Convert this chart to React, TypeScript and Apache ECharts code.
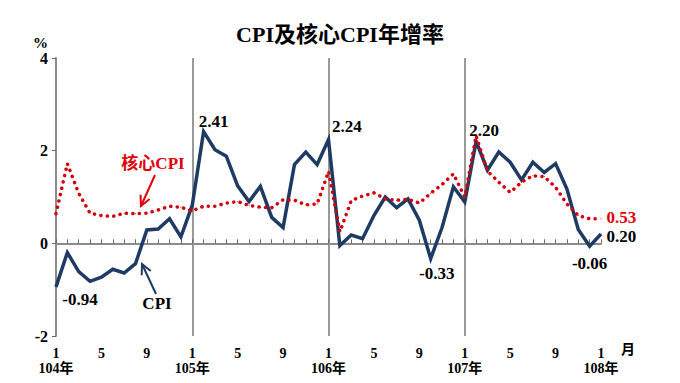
import React, { useEffect, useRef } from "react";
import * as echarts from "echarts";

const TITLE = "CPI及核心CPI年增率";
const YEARS = ["104年", "105年", "106年", "107年", "108年"];
const MONTH_LABELS = ["1", "5", "9"];

// 104年1月 – 108年1月, monthly
const cpi = [
  -0.94, -0.2, -0.61, -0.82, -0.73, -0.56, -0.64, -0.44, 0.29, 0.31, 0.53, 0.14,
  0.82, 2.41, 2.02, 1.88, 1.24, 0.9, 1.23, 0.56, 0.34, 1.7, 1.97, 1.7,
  2.24, -0.05, 0.18, 0.1, 0.6, 1.0, 0.77, 0.96, 0.5, -0.33, 0.34, 1.22,
  0.89, 2.2, 1.58, 1.97, 1.75, 1.37, 1.75, 1.53, 1.72, 1.17, 0.3, -0.06,
  0.2,
];
const core = [
  0.64, 1.72, 1.08, 0.65, 0.6, 0.58, 0.65, 0.64, 0.65, 0.72, 0.8, 0.78,
  0.7, 0.8, 0.8, 0.87, 0.9, 0.82, 0.78, 0.77, 0.94, 0.93, 0.83, 0.85,
  1.55, 0.25, 0.92, 1.02, 1.09, 0.96, 0.93, 0.95, 0.87, 1.08, 1.27, 1.5,
  1.0, 2.32, 1.56, 1.32, 1.1, 1.32, 1.46, 1.44, 1.21, 0.85, 0.6, 0.53,
  0.53,
];

const categories: string[] = [];
YEARS.forEach((y, yi) => {
  const n = yi === YEARS.length - 1 ? 1 : 12;
  for (let m = 1; m <= n; m++) categories.push(`${y}${m}月`);
});

const SERIF = "'Liberation Serif', 'Times New Roman', 'Noto Sans CJK TC', serif";
const NAVY = "#1f3b63";
const RED = "#e0000b";
const DOT_RED = "#d2000a";

// label placement for annotated points
const cpiLabels: Record<number, any> = {
  0: { position: "bottom", offset: [24, 0] },
  13: { position: "top", offset: [10, 2] },
  24: { position: "right", offset: [-2, -13] },
  33: { position: "bottom", offset: [6, 2] },
  37: { position: "top", offset: [8, 2] },
  47: { position: "bottom", offset: [0, 5] },
  48: { position: "right", offset: [0, 2] },
};
const coreLabels: Record<number, any> = {
  48: { position: "right", offset: [0, -1] },
};

export default function App() {
  const ref = useRef<HTMLDivElement>(null);
  useEffect(() => {
    if (!ref.current) return;
    const chart = echarts.init(ref.current, null, { renderer: "svg" });
    const valueFont = {
      fontFamily: SERIF,
      fontWeight: "bold" as const,
      fontSize: 17,
      lineHeight: 14,
    };
    const cpiData = cpi.map((v, i) =>
      cpiLabels[i]
        ? {
            value: v,
            label: {
              show: true,
              ...cpiLabels[i],
              color: "#000",
              ...valueFont,
              formatter: (p: any) => Number(p.value).toFixed(2),
            },
          }
        : v
    );
    const coreData = core.map((v, i) =>
      coreLabels[i]
        ? {
            value: v,
            label: {
              show: true,
              ...coreLabels[i],
              color: RED,
              ...valueFont,
              formatter: (p: any) => Number(p.value).toFixed(2),
            },
          }
        : v
    );

    const arrowHead = (tip: number[], from: number[], len: number, half: number) => {
      const dx = tip[0] - from[0];
      const dy = tip[1] - from[1];
      const d = Math.sqrt(dx * dx + dy * dy);
      const ux = dx / d;
      const uy = dy / d;
      const bx = tip[0] - ux * len;
      const by = tip[1] - uy * len;
      return [
        [bx - uy * half, by + ux * half],
        tip,
        [bx + uy * half, by - ux * half],
      ];
    };
    const redFrom = [155, 175];
    const redTip = [141, 206];
    const blkFrom = [156, 294];
    const blkTip = [142, 264];

    chart.setOption({
      animation: false,
      title: {
        text: TITLE,
        left: "center",
        top: 18,
        textStyle: {
          fontFamily: SERIF,
          fontWeight: "bold",
          fontSize: 22,
          color: "#000",
        },
      },
      grid: { left: 56, right: 79, top: 58, bottom: 47 },
      xAxis: [
        {
          type: "category",
          data: categories,
          boundaryGap: false,
          axisLine: { onZero: true, lineStyle: { color: "#8c8c8c", width: 2 } },
          axisTick: {
            show: true,
            inside: true,
            length: 4,
            interval: 0,
            lineStyle: { color: "#666", width: 1 },
          },
          axisLabel: { show: false },
          splitLine: {
            show: true,
            interval: (i: number) => i > 0 && i < categories.length - 1 && i % 12 === 0,
            lineStyle: { color: "#999", width: 2 },
          },
        },
        {
          type: "category",
          data: categories,
          boundaryGap: false,
          position: "bottom",
          axisLine: { show: false, onZero: false },
          axisTick: { show: false },
          splitLine: { show: false },
          axisLabel: {
            show: true,
            interval: 0,
            margin: 10,
            formatter: (_v: string, i: number) => {
              if (i % 4 !== 0) return "";
              const m = MONTH_LABELS[(i % 12) / 4];
              if (i % 12 === 0) return `{m|${m}}\n{y|${YEARS[i / 12]}}`;
              return `{m|${m}}`;
            },
            rich: {
              m: {
                fontFamily: SERIF,
                fontWeight: "bold",
                fontSize: 14,
                color: "#000",
                lineHeight: 15,
              },
              y: {
                fontFamily: SERIF,
                fontWeight: "bold",
                fontSize: 14,
                color: "#000",
                lineHeight: 15,
              },
            },
          },
        },
      ],
      yAxis: {
        type: "value",
        min: -2,
        max: 4,
        interval: 2,
        axisLine: { show: true, lineStyle: { color: "#8c8c8c", width: 2 } },
        axisTick: { show: true, length: 4, lineStyle: { color: "#666" } },
        splitLine: { show: false },
        axisLabel: {
          margin: 8,
          fontFamily: SERIF,
          fontWeight: "bold",
          fontSize: 16,
          color: "#000",
        },
      },
      series: [
        {
          name: "核心CPI",
          type: "line",
          data: coreData,
          xAxisIndex: 0,
          showSymbol: true,
          showAllSymbol: true,
          symbol: "circle",
          symbolSize: 1,
          itemStyle: { color: DOT_RED },
          lineStyle: { color: DOT_RED, width: 3.5, type: [0.1, 6.4], cap: "round" },
          label: { show: false },
          z: 3,
        },
        {
          name: "CPI",
          type: "line",
          data: cpiData,
          xAxisIndex: 0,
          showSymbol: true,
          showAllSymbol: true,
          symbol: "circle",
          symbolSize: 1,
          itemStyle: { color: NAVY },
          lineStyle: { color: NAVY, width: 3.5, join: "miter" },
          label: { show: false },
          z: 2,
        },
      ],
      graphic: [
        {
          type: "text",
          left: 33,
          top: 35,
          style: {
            text: "%",
            fontFamily: SERIF,
            fontWeight: "bold",
            fontSize: 15,
            fill: "#000",
          },
        },
        {
          type: "text",
          left: 621,
          top: 342,
          style: {
            text: "月",
            fontFamily: SERIF,
            fontWeight: "bold",
            fontSize: 14,
            fill: "#000",
          },
        },
        {
          type: "text",
          x: 153,
          y: 163,
          style: {
            text: "核心CPI",
            fontFamily: SERIF,
            fontWeight: "bold",
            fontSize: 17,
            fill: RED,
            align: "center",
            verticalAlign: "middle",
          },
        },
        {
          type: "line",
          shape: { x1: redFrom[0], y1: redFrom[1], x2: redTip[0], y2: redTip[1] },
          style: { stroke: RED, lineWidth: 2 },
        },
        {
          type: "polyline",
          shape: { points: arrowHead(redTip, redFrom, 10, 5) },
          style: { stroke: RED, lineWidth: 2, fill: "none" },
        },
        {
          type: "text",
          x: 157,
          y: 303,
          style: {
            text: "CPI",
            fontFamily: SERIF,
            fontWeight: "bold",
            fontSize: 17,
            fill: "#000",
            align: "center",
            verticalAlign: "middle",
          },
        },
        {
          type: "line",
          shape: { x1: blkFrom[0], y1: blkFrom[1], x2: blkTip[0], y2: blkTip[1] },
          style: { stroke: NAVY, lineWidth: 2 },
        },
        {
          type: "polyline",
          shape: { points: arrowHead(blkTip, blkFrom, 10, 5) },
          style: { stroke: NAVY, lineWidth: 2, fill: "none" },
        },
      ],
    });
    return () => chart.dispose();
  }, []);
  return (
    <div
      ref={ref}
      style={{ position: "absolute", left: 0, top: 0, width: 680, height: 383 }}
    />
  );
}
